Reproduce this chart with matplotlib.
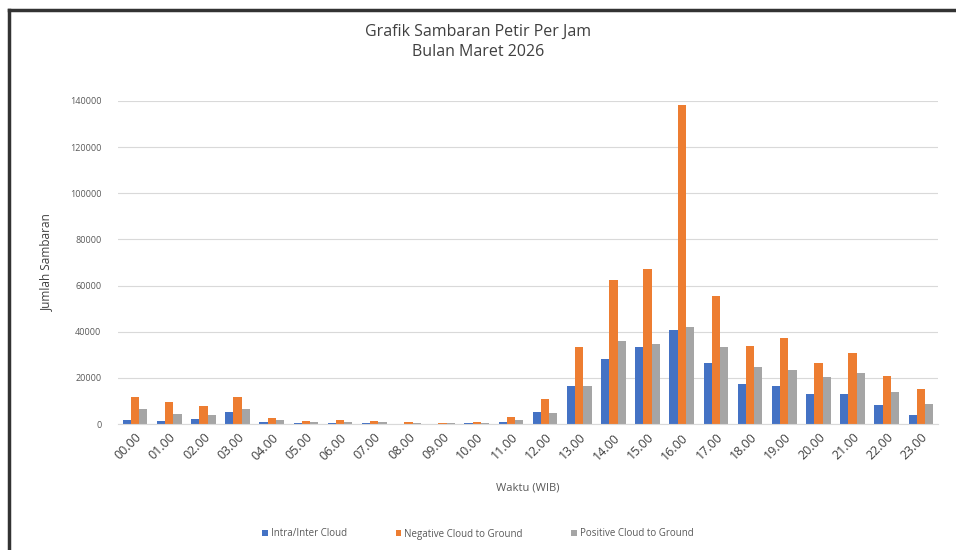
import numpy as np
import matplotlib.pyplot as plt
from matplotlib.lines import Line2D

plt.rcParams['font.family'] = ['Open Sans', 'DejaVu Sans']

jam = ['00.00', '01.00', '02.00', '03.00', '04.00', '05.00', '06.00', '07.00',
       '08.00', '09.00', '10.00', '11.00', '12.00', '13.00', '14.00', '15.00',
       '16.00', '17.00', '18.00', '19.00', '20.00', '21.00', '22.00', '23.00']

intra_inter = [1700, 1400, 2200, 5300, 800, 300, 400, 300, 200, 200, 300, 800,
               5300, 16500, 28000, 33200, 40700, 26500, 17300, 16500, 13000, 13000, 8200, 3900]
negatif_cg = [11800, 9700, 7800, 11800, 2600, 1500, 1600, 1200, 700, 600, 800, 3200,
              10800, 33500, 62600, 67200, 138100, 55600, 33800, 37100, 26300, 30900, 20900, 15000]
positif_cg = [6500, 4300, 3900, 6300, 1700, 800, 900, 700, 500, 400, 600, 1700,
              4800, 16500, 36000, 34600, 41900, 33500, 24500, 23400, 20500, 22200, 14000, 8700]

fig = plt.figure(figsize=(9.56, 5.5), dpi=100)
ax = fig.add_axes([118 / 956, 1 - 424 / 550, 820 / 956, 323 / 550])

x = np.arange(len(jam))
w = 0.24
ax.bar(x - w, intra_inter, w, color='#4472C4', label='Intra/Inter Cloud')
ax.bar(x, negatif_cg, w, color='#ED7D31', label='Negative Cloud to Ground')
ax.bar(x + w, positif_cg, w, color='#A5A5A5', label='Positive Cloud to Ground')

ax.set_xlim(-0.5, len(jam) - 0.5)
ax.set_ylim(0, 140000)
ax.set_yticks(np.arange(0, 140001, 20000))
ax.tick_params(axis='y', labelsize=6.5, colors='#595959', length=0, pad=12)
ax.set_xticks(x)
ax.set_xticklabels(jam, rotation=45, ha='right', rotation_mode='anchor')
ax.tick_params(axis='x', labelsize=9, colors='#404040', length=0, pad=5)
ax.grid(axis='y', color='#D9D9D9', linewidth=0.8)
ax.set_axisbelow(True)
for s in ['top', 'right', 'left']:
    ax.spines[s].set_visible(False)
ax.spines['bottom'].set_color('#D9D9D9')

ax.set_xlabel('Waktu (WIB)', fontsize=8, color='#595959', labelpad=14)
ax.set_ylabel('Jumlah Sambaran', fontsize=8.5, color='#404040', labelpad=12)

fig.text(0.5, 1 - 42 / 550, 'Grafik Sambaran Petir Per Jam\nBulan Maret 2026',
         ha='center', va='center', fontsize=11.5, color='#404040', linespacing=1.3)

fig.legend(loc='center', bbox_to_anchor=(0.5, 1 - 534 / 550), ncol=3, frameon=False,
           fontsize=7, labelcolor='#595959', handlelength=0.6, handleheight=0.6,
           columnspacing=5, handletextpad=0.3)

# chart frame lines on the left and top edges
fig.add_artist(Line2D([9 / 956, 9 / 956], [0, 1 - 10 / 550], color='#333333', linewidth=2.5,
                      transform=fig.transFigure))
fig.add_artist(Line2D([9 / 956, 1], [1 - 10 / 550, 1 - 10 / 550], color='#333333', linewidth=2.5,
                      transform=fig.transFigure))

fig.savefig('out.png', dpi=100, facecolor='white')
